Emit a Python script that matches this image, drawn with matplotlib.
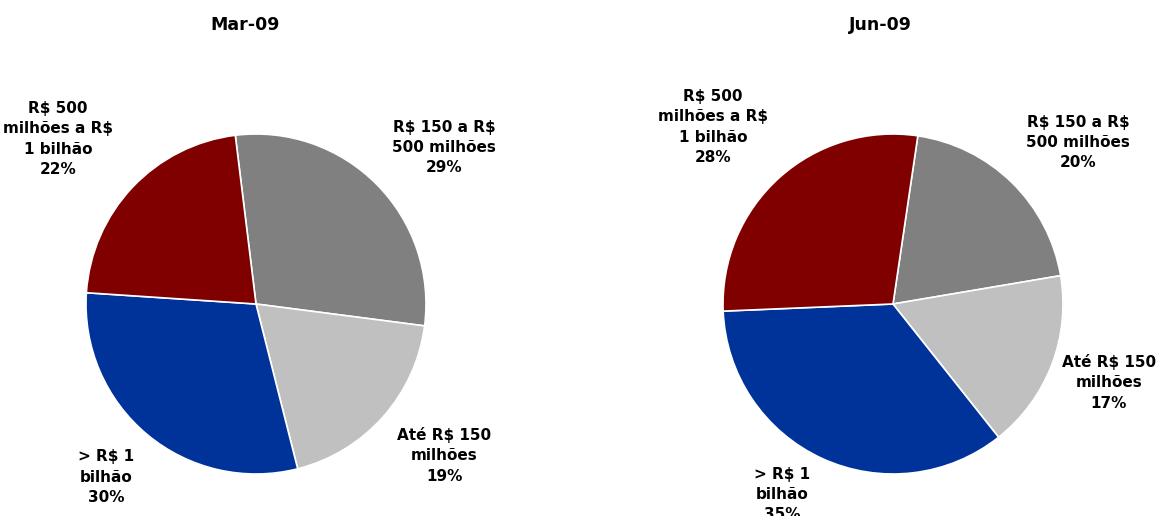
import matplotlib.pyplot as plt

W, H = 1165, 516

periods = ['Mar-09', 'Jun-09']
bands = ['R$ 150 a R$\n500 milhões', 'Até R$ 150\nmilhões', '> R$ 1\nbilhão', 'R$ 500\nmilhões a R$\n1 bilhão']
shares_mar = [29, 19, 30, 22]
shares_jun = [20, 17, 35, 28]
colors = ['#808080', '#c0c0c0', '#003399', '#800000']

plt.rcParams['font.family'] = ['DejaVu Sans']
plt.rcParams['text.parse_math'] = False

fig = plt.figure(figsize=(W / 100, H / 100), dpi=100)

# pie layout in pixels: centre x, centre y, radius, start angle
layouts = [(256, 304, 170, 97), (893, 304, 170, 81.6)]
title_x = [245, 880]
# label anchors (pie units) for each band, per pie
label_pos = [
    [(1.106, 0.92), (1.106, -0.89), (-0.88, -1.02), (-1.165, 0.97)],
    [(1.09, 0.95), (1.27, -0.46), (-0.65, -1.12), (-1.06, 1.04)],
]

for i, shares in enumerate([shares_mar, shares_jun]):
    cx, cy, r, start = layouts[i]
    ax = fig.add_axes([(cx - r) / W, (H - cy - r) / H, 2 * r / W, 2 * r / H])
    ax.pie(shares, colors=colors, startangle=start, counterclock=False,
           wedgeprops=dict(edgecolor='white', linewidth=1.2))
    ax.set_xlim(-1, 1)
    ax.set_ylim(-1, 1)
    ax.set_aspect('auto')
    ax.axis('off')
    for band, val, (lx, ly) in zip(bands, shares, label_pos[i]):
        ax.text(lx, ly, f'{band}\n{val}%', ha='center', va='center',
                fontsize=11, fontweight='bold', linespacing=1.45, clip_on=False)
    fig.text(title_x[i] / W, 1 - 25 / H, periods[i], ha='center', va='center',
             fontsize=12.5, fontweight='bold')

fig.savefig('out.png', dpi=100)
